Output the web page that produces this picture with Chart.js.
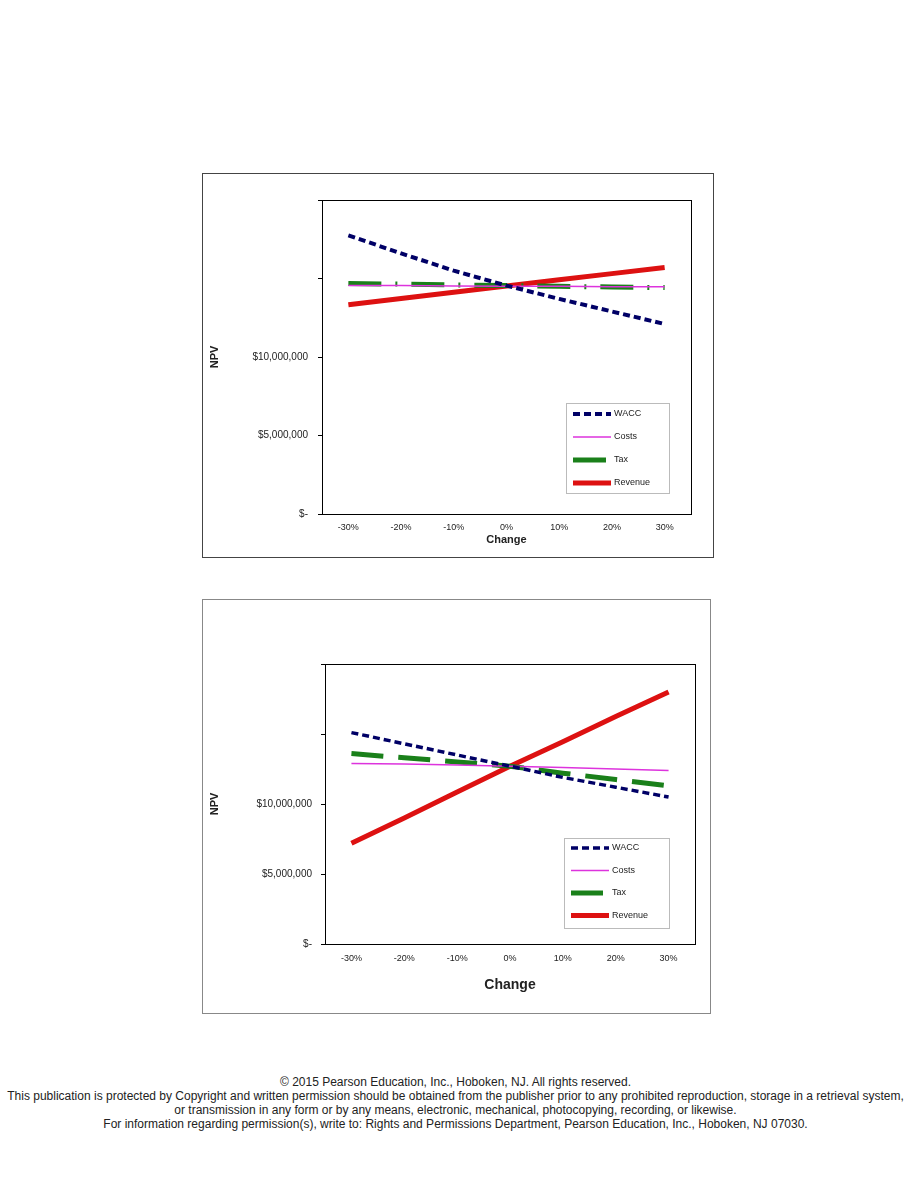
<!DOCTYPE html>
<html>
<head>
<meta charset="utf-8">
<script src="https://cdn.jsdelivr.net/npm/chart.js@4"></script>
<style>
  body { margin: 0; background: #fff; width: 911px; height: 1179px; position: relative; font-family: 'Liberation Sans', Arial, sans-serif; }
  canvas { position: absolute; }
  #c1 { left: 202px; top: 173px; }
  #c2 { left: 202px; top: 599px; }
  #footer { position: absolute; left: 0; width: 911px; top: 1075px; text-align: center; font-size: 12px; line-height: 14px; color: #222; white-space: nowrap; }
</style>
</head>
<body>
<canvas id="c1" width="512" height="385"></canvas>
<canvas id="c2" width="509" height="415"></canvas>
<div id="footer">
  © 2015 Pearson Education, Inc., Hoboken, NJ. All rights reserved.<br>
  This publication is protected by Copyright and written permission should be obtained from the publisher prior to any prohibited reproduction, storage in a retrieval system,<br>
  or transmission in any form or by any means, electronic, mechanical, photocopying, recording, or likewise.<br>
  For information regarding permission(s), write to: Rights and Permissions Department, Pearson Education, Inc., Hoboken, NJ 07030.
</div>
<script>
// --- DONNÉES ---
const changeLabels = ['-30%', '-20%', '-10%', '0%', '10%', '20%', '30%'];
const seriesNames = ['WACC', 'Costs', 'Tax', 'Revenue'];
const yTicks = [0, 5000000, 10000000, 15000000, 20000000];
const yTickText = ['$-', '$5,000,000', '$10,000,000', '', ''];   // le haut de l'axe n'a pas d'étiquettes

// graphique du haut
const top1 = [17750000, 16600000, 15500000, 14550000, 13700000, 12900000, 12100000];
const top2 = [14550000, 14550000, 14520000, 14500000, 14500000, 14480000, 14480000];
const top3 = [14680000, 14640000, 14590000, 14550000, 14500000, 14460000, 14420000];
const top4 = [13330000, 13730000, 14130000, 14520000, 14920000, 15310000, 15700000];

// graphique du bas
const bot1 = [15100000, 14300000, 13500000, 12700000, 11900000, 11200000, 10500000];
const bot2 = [12900000, 12850000, 12780000, 12700000, 12600000, 12500000, 12400000];
const bot3 = [13600000, 13300000, 13000000, 12700000, 12200000, 11750000, 11300000];
const bot4 = [7200000, 9000000, 10850000, 12700000, 14450000, 16250000, 18000000];

const FONT = "'Liberation Sans', Arial, sans-serif";

// cadre extérieur + cadre de la zone de tracé
const framePlugin = {
    id: 'frame',
    afterDraw(chart) {
        const ctx = chart.ctx, a = chart.chartArea;
        ctx.save();
        ctx.strokeStyle = chart.options.plugins.frame.outer;
        ctx.lineWidth = 1;
        ctx.strokeRect(0.5, 0.5, chart.width - 1, chart.height - 1);
        ctx.strokeStyle = '#000';
        ctx.strokeRect(Math.round(a.left) + 0.5, Math.round(a.top) + 0.5, Math.round(a.width), Math.round(a.height));
        ctx.restore();
    }
};

// légende dans le coin bas-droit
const boxLegend = {
    id: 'boxLegend',
    afterDraw(chart) {
        const o = chart.options.plugins.boxLegend;
        const ctx = chart.ctx, a = chart.chartArea;
        const x = a.right - o.right - o.w, y = a.bottom - o.bottom - o.h;
        ctx.save();
        ctx.fillStyle = '#fff';
        ctx.fillRect(x, y, o.w, o.h);
        ctx.strokeStyle = '#bbb';
        ctx.lineWidth = 1;
        ctx.strokeRect(x + 0.5, y + 0.5, o.w, o.h);
        chart.data.datasets.forEach((ds, i) => {
            const cy = y + o.first + i * o.gap;
            ctx.strokeStyle = ds.borderColor;
            ctx.lineWidth = ds.borderWidth;
            ctx.setLineDash(ds.borderDash || []);
            ctx.beginPath();
            ctx.moveTo(x + 7, cy);
            ctx.lineTo(x + 45, cy);
            ctx.stroke();
            ctx.setLineDash([]);
            ctx.fillStyle = '#222';
            ctx.font = o.font + 'px ' + FONT;
            ctx.textBaseline = 'middle';
            ctx.fillText(ds.label, x + 48, cy);
        });
        ctx.restore();
    }
};

function makeDatasets(d1, d2, d3, d4, greenDash, blueW) {
    return [
        { label: seriesNames[0], data: d1, borderColor: '#000066', borderWidth: blueW, borderDash: [7, 4] },
        { label: seriesNames[1], data: d2, borderColor: '#dd33dd', borderWidth: 1.5 },
        { label: seriesNames[2], data: d3, borderColor: '#1a801a', borderWidth: 5, borderDash: greenDash },
        { label: seriesNames[3], data: d4, borderColor: '#dd1111', borderWidth: 5 }
    ];
}

function makeChart(id, datasets, cfg) {
    return new Chart(document.getElementById(id), {
        type: 'line',
        data: { labels: changeLabels, datasets: datasets },
        plugins: [framePlugin, boxLegend],
        options: {
            responsive: false,
            animation: false,
            layout: { padding: { top: cfg.top, right: cfg.right, left: 0, bottom: 0 } },
            elements: { point: { radius: 0 }, line: { tension: 0, borderCapStyle: 'butt' } },
            plugins: {
                legend: { display: false },
                tooltip: { enabled: false },
                frame: { outer: cfg.outer },
                boxLegend: cfg.legend
            },
            scales: {
                x: {
                    offset: true,
                    grid: { display: false },
                    border: { display: false },
                    ticks: { color: '#222', font: { family: FONT, size: 9 }, padding: cfg.xPad, maxRotation: 0 },
                    title: { display: true, text: 'Change', color: '#222', font: { family: FONT, size: cfg.xTitleSize, weight: 'bold' }, padding: { top: 0, bottom: cfg.xTitlePad } },
                    afterFit: s => { s.height = cfg.xH; }
                },
                y: {
                    min: 0, max: 20000000,
                    afterBuildTicks: s => { s.ticks = yTicks.map(v => ({ value: v })); },
                    grid: { display: true, drawOnChartArea: false, drawTicks: true, tickLength: 4, color: '#000' },
                    border: { display: true, color: '#000' },
                    ticks: { color: '#222', font: { family: FONT, size: 10 }, padding: cfg.yPad, callback: (v, i) => yTickText[i] },
                    title: { display: true, text: 'NPV', color: '#222', font: { family: FONT, size: 11, weight: 'bold' }, padding: { top: 6, bottom: 0 } },
                    afterFit: s => { s.width = cfg.yW; }
                }
            }
        }
    });
}

makeChart('c1', makeDatasets(top1, top2, top3, top4, [33, 14, 2, 14], 4), {
    top: 27, right: 23, yW: 120, xH: 44, xPad: 0, xTitleSize: 11, xTitlePad: 11, yPad: 10, outer: '#444',
    legend: { right: 22, bottom: 21, w: 103, h: 90, first: 11, gap: 23, font: 9 }
});

makeChart('c2', makeDatasets(bot1, bot2, bot3, bot4, [32, 15], 3.5), {
    top: 65, right: 16, yW: 123, xH: 70, xPad: 1, xTitleSize: 14, xTitlePad: 20, yPad: 9, outer: '#888',
    legend: { right: 26, bottom: 16, w: 105, h: 90, first: 10, gap: 22.5, font: 9 }
});
</script>
</body>
</html>
